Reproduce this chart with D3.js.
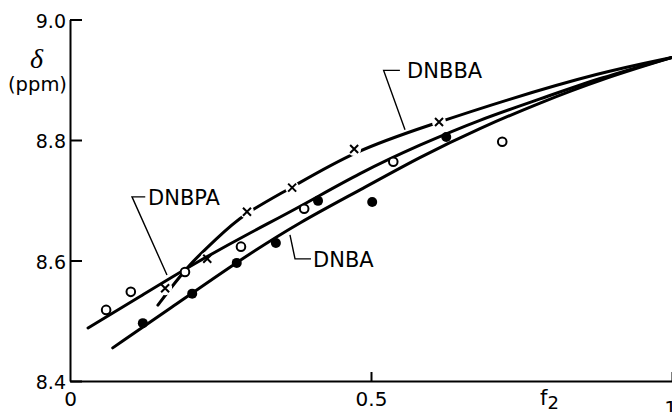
<!DOCTYPE html>
<html><head><meta charset="utf-8">
<script src="https://cdn.jsdelivr.net/npm/d3@7"></script>
<style>body{margin:0;background:#fff}svg{display:block}</style>
</head><body>
<svg id="c" width="672" height="412"></svg>
<script>
// ---- data ----
const xTicks = [0, 0.5, 1];
const xTickLabels = ["0", "0.5", "1"];
const yTicks = [8.4, 8.6, 8.8, 9.0];
const yTickLabels = ["8.4", "8.6", "8.8", "9.0"];

// measured points
const dnbpaF = [0.060, 0.101, 0.191, 0.284, 0.389, 0.537, 0.718];   // open circles
const dnbpaD = [8.518, 8.548, 8.581, 8.623, 8.686, 8.764, 8.797];
const dnbaF  = [0.121, 0.203, 0.277, 0.342, 0.412, 0.502, 0.625];   // filled circles
const dnbaD  = [8.496, 8.545, 8.596, 8.629, 8.699, 8.697, 8.805];
const dnbbaF = [0.158, 0.228, 0.294, 0.369, 0.472, 0.613];          // crosses
const dnbbaD = [8.554, 8.603, 8.681, 8.721, 8.785, 8.830];

// drawn curves
const dnbpaCurveF = [0.030, 0.116, 0.208, 0.299, 0.382, 0.482, 0.581, 0.681, 0.781, 0.880, 1.0];
const dnbpaCurveD = [8.488, 8.540, 8.596, 8.646, 8.689, 8.746, 8.792, 8.834, 8.868, 8.903, 8.937];
const dnbaCurveF  = [0.071, 0.166, 0.282, 0.382, 0.482, 0.581, 0.681, 0.781, 0.880, 1.0];
const dnbaCurveD  = [8.455, 8.520, 8.601, 8.664, 8.717, 8.772, 8.820, 8.862, 8.900, 8.937];
const dnbbaCurveF = [0.146, 0.174, 0.203, 0.241, 0.287, 0.365, 0.472, 0.598, 0.726, 0.880, 1.0];
const dnbbaCurveD = [8.526, 8.563, 8.598, 8.634, 8.677, 8.719, 8.782, 8.825, 8.867, 8.912, 8.937];

// curve labels
const labelNames = ["DNBBA", "DNBPA", "DNBA"];

// ---- layout ----
const svg = d3.select("#c");
const x = d3.scaleLinear().domain([0, 1]).range([70, 672]);
const y = d3.scaleLinear().domain([8.4, 9.0]).range([381, 19.5]);
const zip = (a, b) => a.map((v, i) => [v, b[i]]);

// axes
const gx = svg.append("g").attr("transform", `translate(0,${y(8.4)})`)
  .call(d3.axisBottom(x).tickValues(xTicks).tickFormat((d, i) => xTickLabels[i])
    .tickSizeInner(-9).tickSizeOuter(0).tickPadding(11));
const gy = svg.append("g").attr("transform", `translate(${x(0)},0)`)
  .call(d3.axisLeft(y).tickValues(yTicks).tickFormat((d, i) => yTickLabels[i])
    .tickSizeInner(-12).tickSizeOuter(0).tickPadding(4));
[gx, gy].forEach(g => {
  g.select(".domain").attr("stroke", "#000").attr("stroke-width", 2);
  g.selectAll(".tick line").attr("stroke", "#000").attr("stroke-width", 2);
  g.selectAll("text").attr("fill", "#000").attr("font-family", "DejaVu Sans");
});
gx.selectAll("text").attr("font-size", 20);
gx.selectAll(".tick").filter(d => d === 0).select("line").remove();
gx.selectAll(".tick").filter(d => d === 1).select("text").attr("y", 20).attr("x", -2);
gy.selectAll("text").attr("font-size", 19).attr("dy", "0.42em");

// mask for the gaps of the DNBBA line around the crosses
const defs = svg.append("defs");
const mask = defs.append("mask").attr("id", "gap").attr("maskUnits", "userSpaceOnUse");
mask.append("rect").attr("width", 672).attr("height", 412).attr("fill", "#fff");
mask.selectAll("circle").data(zip(dnbbaF, dnbbaD)).join("circle")
  .attr("cx", d => x(d[0])).attr("cy", d => y(d[1])).attr("r", 7).attr("fill", "#000");

// curves
const line = d3.line().x(d => x(d[0])).y(d => y(d[1])).curve(d3.curveBasis);
const curveStyle = p => p.attr("fill", "none").attr("stroke", "#000")
  .attr("stroke-width", 3).attr("stroke-linecap", "round");
svg.append("path").datum(zip(dnbaCurveF, dnbaCurveD)).attr("d", line).call(curveStyle);
svg.append("path").datum(zip(dnbpaCurveF, dnbpaCurveD)).attr("d", line).call(curveStyle);
svg.append("path").datum(zip(dnbbaCurveF, dnbbaCurveD)).attr("d", line).call(curveStyle)
  .attr("mask", "url(#gap)");

// markers
svg.append("g").selectAll("circle").data(zip(dnbpaF, dnbpaD)).join("circle")
  .attr("cx", d => x(d[0])).attr("cy", d => y(d[1])).attr("r", 4.3)
  .attr("fill", "#fff").attr("stroke", "#000").attr("stroke-width", 2);
svg.append("g").selectAll("circle").data(zip(dnbaF, dnbaD)).join("circle")
  .attr("cx", d => x(d[0])).attr("cy", d => y(d[1])).attr("r", 5).attr("fill", "#000");
svg.append("g").selectAll("path").data(zip(dnbbaF, dnbbaD)).join("path")
  .attr("d", d => {
    const cx = x(d[0]), cy = y(d[1]), s = 4;
    return `M${cx - s},${cy - s}L${cx + s},${cy + s}M${cx - s},${cy + s}L${cx + s},${cy - s}`;
  })
  .attr("stroke", "#000").attr("stroke-width", 2).attr("fill", "none");

// labels with leader lines (positions in data units)
const annot = [
  { name: labelNames[0], tx: 0.560, ty: 8.9033, pts: [[0.548, 8.9155], [0.521, 8.9155], [0.5565, 8.817]] },
  { name: labelNames[1], tx: 0.1296, ty: 8.6915, pts: [[0.125, 8.7056], [0.103, 8.7056], [0.1611, 8.576]] },
  { name: labelNames[2], tx: 0.4037, ty: 8.5894, pts: [[0.4003, 8.6027], [0.3738, 8.6027], [0.3654, 8.6425]] }
];
const lead = d3.line().x(d => x(d[0])).y(d => y(d[1]));
annot.forEach(a => {
  svg.append("path").attr("d", lead(a.pts)).attr("fill", "none")
    .attr("stroke", "#000").attr("stroke-width", 1.4);
  svg.append("text").attr("x", x(a.tx)).attr("y", y(a.ty))
    .attr("font-family", "DejaVu Sans").attr("font-size", 21).attr("fill", "#000").text(a.name);
});

// axis titles
svg.append("text").attr("x", 36.5).attr("y", 68).attr("text-anchor", "middle")
  .attr("font-family", "Liberation Serif").attr("font-style", "italic")
  .attr("font-size", 28).attr("fill", "#000").text("δ");
svg.append("text").attr("x", 37.5).attr("y", 91).attr("text-anchor", "middle")
  .attr("font-family", "DejaVu Sans").attr("font-size", 19.5).attr("fill", "#000").text("(ppm)");
const ft = svg.append("text").attr("x", 540).attr("y", 405)
  .attr("font-family", "DejaVu Sans").attr("font-size", 21).attr("fill", "#000");
ft.append("tspan").text("f");
ft.append("tspan").attr("font-size", 18).attr("dy", 4).text("2");
</script>
</body></html>
